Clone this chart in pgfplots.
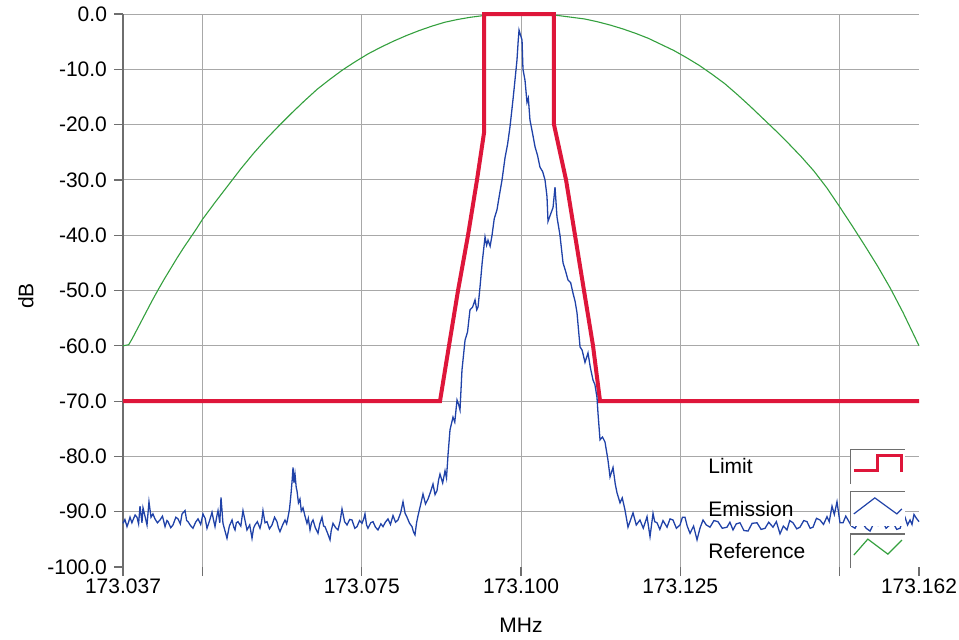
\documentclass[border=0pt]{standalone}
\usepackage{pgfplots}
\pgfplotsset{compat=1.18}
\usepackage{fontspec}
\setmainfont{Liberation Sans}
\definecolor{limred}{RGB}{222,22,58}
\definecolor{emblue}{RGB}{32,66,168}
\definecolor{refgreen}{RGB}{52,160,62}
\definecolor{gridgray}{RGB}{168,168,168}
\definecolor{axgray}{RGB}{110,110,110}
\pgfplotsset{
 limitimg/.style={legend image code/.code={
   \fill[white] (0pt,-8pt) rectangle (27pt,9pt);
   \draw[axgray, line width=0.6pt] (0pt,-8pt) -- (0pt,9pt) -- (27pt,9pt);
   \draw[limred, line width=1.6pt] (1.5pt,-1.5pt) -- (13.5pt,-1.5pt) -- (13.5pt,6pt) -- (25.5pt,6pt) -- (25.5pt,-2pt);
 }},
 emisimg/.style={legend image code/.code={
   \fill[white] (0pt,-8pt) rectangle (27pt,9pt);
   \draw[axgray, line width=0.6pt] (0pt,-8pt) -- (0pt,9pt) -- (27pt,9pt);
   \draw[emblue, line width=0.6pt] (1.5pt,-2pt) -- (12pt,6pt) -- (23pt,-2pt) -- (25.5pt,0.5pt);
 }},
 refimg/.style={legend image code/.code={
   \fill[white] (0pt,-8pt) rectangle (27pt,9pt);
   \draw[axgray, line width=0.6pt] (0pt,-8pt) -- (0pt,9pt) -- (27pt,9pt);
   \draw[refgreen, line width=0.6pt] (1.5pt,-1.5pt) -- (8.5pt,6.5pt) -- (18.5pt,-1pt) -- (25.5pt,6pt);
 }},
}
\begin{document}
\begin{tikzpicture}[font=\fontsize{10.5}{12.6}\selectfont]
\useasboundingbox (-61.5pt,-36pt) rectangle (418pt,283.5pt);
\begin{axis}[
  at={(0pt,0pt)}, anchor=south west,
  scale only axis, width=398pt, height=276.5pt,
  xmin=-62.5, xmax=62.5, ymin=-100, ymax=0,
  clip=false,
  axis y line*=left, axis x line*=bottom,
  x axis line style={draw=none},
  y axis line style={draw=axgray, line width=0.6pt},
  xtick={-50,-25,0,25,50},
  xticklabels={,173.075,173.100,173.125,},
  extra x ticks={-62.5,62.5},
  extra x tick labels={173.037,173.162},
  extra x tick style={grid=none},
  xticklabel style={yshift=2pt},
  ytick={-90,-80,...,0},
  yticklabels={-90.0,-80.0,-70.0,-60.0,-50.0,-40.0,-30.0,-20.0,-10.0,0.0},
  extra y ticks={-100},
  extra y tick labels={-100.0},
  extra y tick style={grid=none},
  grid=major,
  major grid style={gridgray, line width=0.5pt},
  tick align=outside,
  major tick length=4.5pt,
  tick style={axgray, line width=0.6pt},
  xlabel={MHz}, ylabel={dB},
  xlabel style={at={(axis description cs:0.5,-0.105)}, anchor=center},
  ylabel style={at={(axis description cs:-0.122,0.49)}, anchor=center},
  legend plot pos=right,
  legend cell align=left,
  legend style={at={(axis description cs:0.991,-0.011)}, anchor=south east,
    draw=none, fill=none, row sep=3.5pt, column sep=20.5pt,
    font=\fontsize{10.5}{12.6}\selectfont},
]
% Reference (green)
\addplot[refgreen, line width=0.55pt, forget plot] coordinates {
(-62.5,-60.0) (-61.6,-59.8) (-61.0,-58.6) (-60.0,-56.4) (-59.0,-54.2) (-58.0,-52.0)
(-57.0,-49.9) (-56.0,-47.9) (-55.0,-46.0) (-54.0,-44.1) (-53.0,-42.3) (-52.0,-40.6)
(-51.0,-38.9) (-50.0,-37.1) (-48.0,-34.0) (-46.0,-31.0) (-44.0,-28.0) (-42.0,-25.2)
(-40.0,-22.6) (-38.0,-20.2) (-36.0,-17.9) (-34.0,-15.7) (-32.0,-13.6) (-30.0,-11.8)
(-28.0,-10.1) (-26.0,-8.6) (-24.0,-7.2) (-22.0,-6.0) (-20.0,-4.9) (-18.0,-3.9)
(-16.0,-3.0) (-14.0,-2.2) (-12.0,-1.5) (-10.0,-1.0) (-8.0,-0.6) (-6.0,-0.3)
(-4.0,-0.1) (-2.0,0.0) (0,0) (2.0,0.0) (4.0,-0.1) (6.0,-0.3) (8.0,-0.6) (10.0,-0.9)
(12.0,-1.4) (14.0,-2.0) (16.0,-2.7) (18.0,-3.5) (20.0,-4.4) (22.0,-5.5) (24.0,-6.6)
(26.0,-7.9) (28.0,-9.3) (30.0,-10.9) (32.0,-12.6) (34.0,-14.6) (36.0,-16.7)
(38.0,-18.9) (40.0,-21.1) (42.0,-23.4) (44.0,-25.8) (46.0,-28.4) (48.0,-31.4)
(50.0,-34.8) (52.0,-38.3) (54.0,-41.9) (56.0,-45.6) (58.0,-49.6) (60.0,-54.0)
(61.0,-56.4) (62.0,-58.8) (62.5,-60.0)
};
% Limit (red)
\addplot[limred, line width=2pt, forget plot] coordinates {
(-62.5,-70) (-12.72,-70) (-11.31,-60) (-9.89,-50) (-8.32,-40) (-6.91,-30)
(-5.81,-21.5) (-5.81,0) (5.18,0) (5.18,-20) (7.07,-30) (8.48,-40) (9.89,-50)
(11.31,-60) (12.41,-70) (62.5,-70)
};
% Emission (blue)
\addplot[emblue, line width=0.65pt, forget plot] coordinates {
(-62.50,-92.1) (-62.2,-91.4) (-61.87,-92.7) (-61.6,-91.8) (-61.40,-91.0) (-61.1,-92.0)
(-60.93,-91.5) (-60.6,-90.6) (-60.30,-91.0) (-60.05,-92.2) (-59.83,-89.0) (-59.52,-92.0)
(-59.36,-89.3) (-59.05,-90.8) (-58.73,-92.4) (-58.42,-88.2) (-58.10,-91.0) (-57.8,-90.4)
(-57.48,-91.3) (-57.1,-92.0) (-56.69,-91.5) (-56.3,-90.8) (-55.90,-92.7) (-55.6,-91.6)
(-55.43,-91.8) (-55.0,-92.9) (-54.65,-92.4) (-54.2,-91.0) (-53.86,-91.3) (-53.5,-92.2)
(-53.23,-90.4) (-52.76,-89.8) (-52.5,-91.6) (-52.29,-91.8) (-51.9,-92.5) (-51.51,-93.0)
(-51.1,-91.9) (-50.72,-91.3) (-50.3,-92.3) (-49.94,-90.4) (-49.6,-91.2) (-49.31,-93.0)
(-48.9,-91.6) (-48.52,-90.1) (-48.3,-91.4) (-48.05,-92.7) (-47.8,-91.0) (-47.58,-89.8)
(-47.3,-92.0) (-47.11,-87.4) (-46.80,-92.1) (-46.5,-93.4) (-46.17,-94.8) (-45.8,-92.6)
(-45.38,-91.5) (-45.1,-92.8) (-44.91,-93.3) (-44.7,-92.0) (-44.44,-91.8) (-44.0,-92.6)
(-43.66,-89.8) (-43.3,-91.8) (-43.03,-93.3) (-42.6,-92.4) (-42.24,-94.8) (-42.0,-93.0)
(-41.77,-92.4) (-41.4,-91.8) (-40.99,-93.0) (-40.75,-91.9) (-40.52,-89.8) (-40.2,-92.0)
(-39.89,-91.8) (-39.5,-93.1) (-39.10,-92.4) (-38.7,-91.0) (-38.32,-91.8) (-38.1,-92.9)
(-37.85,-93.6) (-37.4,-92.3) (-37.06,-91.5) (-36.8,-92.2) (-36.59,-91.0) (-36.35,-89.5)
(-36.12,-86.8) (-35.95,-84.5) (-35.80,-82.0) (-35.65,-84.8) (-35.49,-83.2) (-35.3,-85.6)
(-35.18,-86.2) (-34.95,-88.4) (-34.71,-87.7) (-34.5,-89.9) (-34.23,-89.3) (-33.9,-90.9)
(-33.61,-92.1) (-33.4,-91.2) (-33.13,-93.3) (-32.9,-92.0) (-32.66,-91.5) (-32.3,-92.9)
(-31.88,-93.9) (-31.6,-92.2) (-31.25,-91.0) (-31.0,-92.6) (-30.78,-92.7) (-30.4,-93.8)
(-29.99,-95.1) (-29.8,-93.4) (-29.52,-92.1) (-29.1,-92.9) (-28.74,-93.3) (-28.4,-91.7)
(-28.11,-89.5) (-27.7,-91.8) (-27.32,-92.4) (-26.9,-91.4) (-26.54,-91.5) (-26.1,-93.0)
(-25.75,-92.7) (-25.35,-91.6) (-24.97,-92.1) (-24.7,-91.3) (-24.50,-90.4) (-24.25,-92.4)
(-24.03,-93.0) (-23.6,-92.0) (-23.24,-91.8) (-22.85,-92.8) (-22.46,-93.3) (-22.0,-92.2)
(-21.67,-92.7) (-21.3,-91.9) (-20.89,-91.3) (-20.5,-92.3) (-20.10,-90.7) (-19.7,-91.9)
(-19.32,-91.5) (-18.9,-90.2) (-18.53,-88.2) (-18.2,-90.3) (-17.90,-91.0) (-17.5,-92.1)
(-17.12,-92.7) (-16.9,-93.6) (-16.65,-94.2) (-16.4,-92.0) (-16.17,-90.7) (-15.8,-88.9)
(-15.39,-86.8) (-15.0,-88.6) (-14.60,-87.7) (-14.2,-86.4) (-13.82,-85.0) (-13.5,-86.9)
(-13.19,-86.2) (-12.95,-84.3) (-12.72,-83.2) (-12.3,-84.8) (-11.93,-82.6) (-11.7,-83.9)
(-11.46,-79.7) (-11.15,-75.2) (-10.68,-72.9) (-10.4,-73.8) (-10.05,-69.8) (-9.8,-70.6)
(-9.58,-71.6) (-9.27,-64.4) (-8.79,-59.0) (-8.4,-57.5) (-8.01,-53.5) (-7.6,-53.0)
(-7.22,-51.7) (-6.95,-53.5) (-6.75,-53.0) (-6.44,-49.4) (-6.1,-45.0) (-5.65,-40.3)
(-5.4,-41.8) (-5.18,-40.9) (-4.85,-42.0) (-4.55,-40.0) (-4.2,-37.0) (-3.77,-35.4)
(-3.4,-32.8) (-2.98,-30.0) (-2.51,-26.0) (-2.1,-23.5) (-1.73,-20.4) (-1.26,-15.5)
(-0.95,-12.0) (-0.63,-8.3) (-0.45,-5.0) (-0.31,-2.9) (-0.16,-3.5) (0.16,-4.7)
(0.31,-10.0) (0.63,-12.0) (0.94,-16.0) (1.15,-15.2) (1.41,-19.2) (1.8,-21.5)
(2.20,-24.0) (2.6,-25.6) (2.98,-27.7) (3.4,-28.5) (3.77,-30.0) (4.08,-33.0)
(4.24,-37.5) (4.55,-36.5) (5.03,-35.0) (5.34,-31.3) (5.65,-36.7) (6.12,-40.0)
(6.60,-45.0) (7.0,-46.5) (7.38,-48.1) (7.8,-48.6) (8.17,-50.5) (8.5,-52.0)
(8.79,-54.0) (9.27,-60.2) (9.6,-60.8) (10.05,-63.0) (10.52,-61.3) (10.9,-64.0)
(11.31,-66.2) (11.6,-67.0) (11.93,-69.3) (12.09,-72.2) (12.41,-77.0) (12.8,-76.5)
(13.19,-77.4) (13.66,-80.7) (13.98,-83.7) (14.45,-82.0) (14.8,-85.0) (15.08,-86.6)
(15.55,-88.4) (15.9,-87.5) (16.33,-89.7) (16.80,-92.8) (17.2,-91.5) (17.59,-90.2)
(18.1,-92.4) (18.68,-91.5) (19.2,-93.0) (19.79,-90.9) (20.26,-94.5) (20.73,-90.3)
(21.0,-91.8) (21.36,-92.0) (21.8,-93.2) (22.3,-91.6) (22.93,-92.8) (23.4,-91.3)
(23.87,-91.5) (24.4,-93.0) (24.97,-92.4) (25.35,-91.0) (25.75,-91.0) (26.1,-92.6)
(26.54,-93.9) (27.1,-92.6) (27.64,-95.1) (28.1,-93.0) (28.58,-91.5) (29.1,-92.4)
(29.68,-92.8) (30.3,-91.6) (30.93,-91.8) (31.6,-93.0) (32.35,-92.8) (32.8,-91.9)
(33.29,-93.3) (33.8,-92.2) (34.39,-92.0) (35.0,-93.4) (35.65,-93.5) (36.3,-92.1)
(37.06,-92.0) (37.7,-93.2) (38.32,-93.0) (38.9,-91.9) (39.57,-92.8) (40.1,-91.8)
(40.67,-94.0) (41.2,-92.6) (41.77,-93.3) (42.2,-91.6) (42.71,-92.0) (43.3,-93.1)
(43.81,-92.8) (44.4,-91.6) (44.91,-91.8) (45.4,-93.0) (45.85,-92.8) (46.4,-91.2)
(46.95,-91.5) (47.5,-92.3) (48.05,-90.9) (48.4,-91.8) (48.84,-89.0) (49.2,-90.5)
(49.62,-88.2) (50.09,-92.0) (50.57,-92.0) (51.0,-90.8) (51.35,-91.5) (51.9,-92.6)
(52.45,-93.0) (53.0,-91.8) (53.55,-92.0) (54.2,-93.0) (54.81,-93.5) (55.4,-92.1)
(56.06,-92.5) (56.7,-91.6) (57.32,-93.0) (57.9,-92.4) (58.42,-92.0) (59.0,-93.2)
(59.52,-93.0) (59.9,-91.8) (60.30,-91.0) (60.7,-92.4) (61.09,-91.5) (61.4,-92.3)
(61.71,-90.5) (62.1,-91.2) (62.50,-91.8)
};
\addlegendimage{limitimg}
\addlegendentry{Limit}
\addlegendimage{emisimg}
\addlegendentry{Emission}
\addlegendimage{refimg}
\addlegendentry{Reference}
\end{axis}
\end{tikzpicture}
\end{document}
